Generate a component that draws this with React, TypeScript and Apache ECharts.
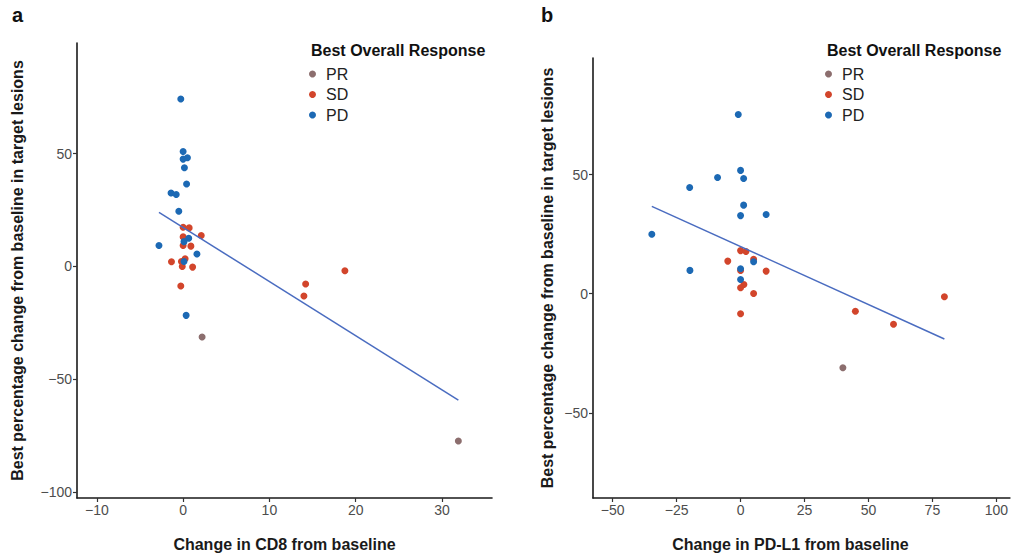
import React, { useEffect, useRef } from "react";
import * as echarts from "echarts";

// Panel a: change in CD8 vs best % change
const aPR: number[][] = [[2.2, -31.3], [31.9, -77.4]];
const aSD: number[][] = [
  [0, 17.4], [0.7, 17.1], [2.1, 13.7], [0, 13.1], [0, 9.3], [0.9, 9],
  [-1.35, 2.1], [-0.2, 2.2], [0.23, 3.4], [-0.1, 0], [1.1, -0.3], [-0.27, -8.7],
  [14.2, -7.8], [14.0, -13.1], [18.75, -1.9],
];
const aPD: number[][] = [
  [-0.27, 74.3], [0, 51], [0, 47.6], [0.5, 48.2], [0.15, 43.8], [0.4, 36.6],
  [-1.4, 32.6], [-0.8, 31.9], [-0.5, 24.5], [-2.8, 9.3], [0.65, 12.5], [0.1, 11],
  [1.6, 5.5], [0.1, 2.2], [0.35, -21.7],
];
const aFit: number[][] = [[-2.8, 24.0], [31.9, -59.3]];

// Panel b: change in PD-L1 vs best % change
const bPR: number[][] = [[40, -31.1]];
const bSD: number[][] = [
  [0, 18.1], [2.1, 17.7], [-5, 13.7], [5.1, 14.5], [0, 9.8], [10, 9.5],
  [1.3, 3.9], [0, 2.5], [5.1, 0.1], [0, -8.4], [44.9, -7.4], [59.8, -12.8], [79.7, -1.3],
];
const bPD: number[][] = [
  [-0.9, 75.3], [0, 51.8], [-9, 48.8], [1.2, 48.4], [-19.9, 44.6], [1.2, 37.2],
  [0, 32.8], [10, 33.3], [-34.7, 25], [-19.8, 9.8], [5.1, 13.4], [0, 10.5], [0, 6],
];
const bFit: number[][] = [[-34.7, 36.7], [79.7, -19.0]];

const aXTicks = [-10, 0, 10, 20, 30];
const aYTicks = [-100, -50, 0, 50];
const bXTicks = [-50, -25, 0, 25, 50, 75, 100];
const bYTicks = [-50, 0, 50];

const groups = ["PR", "SD", "PD"];
const COLORS: Record<string, string> = { PR: "#8c6e6e", SD: "#d2452b", PD: "#1c69b4" };
const LINE_COLOR = "#4a6cc0";
const FONT = "Liberation Sans";

const fmt = (v: number) => String(v).replace("-", "\u2212");

function axis(min: number, max: number, ticks: number[], gridIndex: number, name: string, nameGap: number, extra: any = {}) {
  return {
    type: "value",
    gridIndex,
    min,
    max,
    name,
    nameLocation: "middle",
    nameGap,
    nameTextStyle: { fontFamily: FONT, fontWeight: "bold", fontSize: 16, color: "#1a1a1a", ...(extra.nameTextStyle || {}) },
    axisLine: { show: true, onZero: false, lineStyle: { color: "#1a1a1a", width: 1.6 } },
    axisTick: { show: true, customValues: ticks, length: 4, lineStyle: { color: "#333", width: 1.2 } },
    axisLabel: { customValues: ticks, formatter: fmt, fontFamily: FONT, fontSize: 14, color: "#4d4d4d", margin: 5 },
    splitLine: { show: false },
  };
}

export default function App() {
  const ref = useRef<HTMLDivElement>(null);
  useEffect(() => {
    if (!ref.current) return;
    const chart = echarts.init(ref.current, null, { renderer: "svg" });
    const scatter = (name: string, data: number[][], idx: number) => ({
      type: "scatter",
      name,
      xAxisIndex: idx,
      yAxisIndex: idx,
      data,
      symbolSize: 7,
      itemStyle: { color: COLORS[name], opacity: 1 },
      z: name === "PD" ? 4 : name === "SD" ? 3 : 2,
    });
    const legendTitle = { fontFamily: FONT, fontWeight: "bold", fontSize: 16, color: "#111" };
    const legendBase = {
      data: groups, orient: "vertical", top: 66, padding: 0, icon: "circle", itemWidth: 7, itemHeight: 7, itemGap: 4.5,
      textStyle: { fontFamily: FONT, fontSize: 16, color: "#222", padding: [0, 0, 0, 5] },
    };
    chart.setOption({
      animation: false,
      backgroundColor: "#ffffff",
      title: [
        { text: "a", left: 12, top: 5, padding: 0, textStyle: { fontFamily: FONT, fontWeight: "bold", fontSize: 20, color: "#111" } },
        { text: "b", left: 541, top: 5, padding: 0, textStyle: { fontFamily: FONT, fontWeight: "bold", fontSize: 20, color: "#111" } },
        { text: "Best Overall Response", left: 311, top: 42, padding: 0, textStyle: legendTitle },
        { text: "Best Overall Response", left: 827, top: 42, padding: 0, textStyle: legendTitle },
      ],
      legend: [
        { ...legendBase, left: 309 },
        { ...legendBase, left: 825 },
      ],
      grid: [
        { left: 77, top: 43, width: 415, height: 456, containLabel: false },
        { left: 593, top: 58, width: 417, height: 442, containLabel: false },
      ],
      xAxis: [
        axis(-12.3, 35.8, aXTicks, 0, "Change in CD8 from baseline", 38),
        axis(-57.7, 105.3, bXTicks, 1, "Change in PD-L1 from baseline", 38, { nameTextStyle: { padding: [0, 22, 0, 0] } }),
      ],
      yAxis: [
        axis(-102.7, 99.1, aYTicks, 0, "Best percentage change from baseline in target lesions", 52),
        axis(-85.8, 99, bYTicks, 1, "Best percentage change from baseline in target lesions", 38),
      ],
      series: [
        scatter("PR", aPR, 0),
        scatter("SD", aSD, 0),
        scatter("PD", aPD, 0),
        { type: "line", name: "fitA", xAxisIndex: 0, yAxisIndex: 0, data: aFit, symbol: "none", lineStyle: { color: LINE_COLOR, width: 1.5 }, z: 5 },
        scatter("PR", bPR, 1),
        scatter("SD", bSD, 1),
        scatter("PD", bPD, 1),
        { type: "line", name: "fitB", xAxisIndex: 1, yAxisIndex: 1, data: bFit, symbol: "none", lineStyle: { color: LINE_COLOR, width: 1.5 }, z: 5 },
      ],
    });
    return () => chart.dispose();
  }, []);
  return <div ref={ref} style={{ position: "fixed", left: 0, top: 0, width: 1011, height: 557 }} />;
}
